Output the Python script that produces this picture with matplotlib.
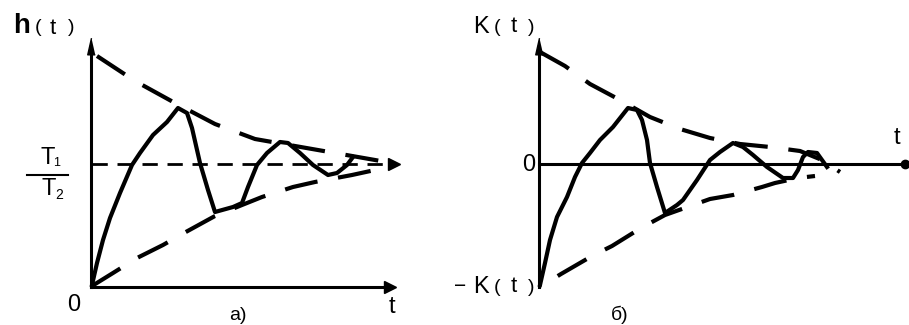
import numpy as np
import matplotlib.pyplot as plt

plt.rcParams['lines.scale_dashes'] = False
plt.rcParams['font.family'] = ['Liberation Sans', 'DejaVu Sans']

# a) step response h(t), drawing units
ha_t = [92, 97, 103, 110, 120, 132, 140, 153, 167, 178, 187, 192, 200, 208, 215,
        233, 242, 248, 257, 267, 280, 288, 300, 313, 328, 337, 347, 353]
ha_h = [285, 263, 240, 218, 193, 165, 153, 135, 122, 108, 113, 128, 163, 190, 212,
        207, 203, 187, 165, 153, 142, 143, 153, 165, 175, 173, 165, 157]
ha_up_t = [97, 135, 175, 215, 255, 295, 335, 375, 397]
ha_up_h = [56, 81, 103, 124, 139, 146, 153, 160, 164]
ha_lo_t = [92, 113, 137, 163, 184, 215, 242, 262, 293, 315, 352, 375, 397]
ha_lo_h = [286, 273, 258, 245, 233, 216, 205, 197, 187, 182, 175, 170, 164]
ha_level = 164          # T1/T2

# b) impulse response K(t)
kb_t = [540, 545, 550, 557, 567, 575, 582, 590, 600, 613, 628, 637, 642, 647, 650,
        657, 665, 677, 683, 697, 710, 720, 733, 743, 753, 767, 783, 793, 798, 803,
        808, 817, 822, 827]
kb_k = [285, 263, 240, 217, 197, 177, 163, 153, 140, 127, 108, 110, 120, 140, 163,
        187, 213, 205, 200, 180, 160, 152, 143, 147, 155, 167, 178, 178, 170, 157,
        152, 153, 160, 167]
kb_up_t = [540, 565, 590, 620, 650, 680, 710, 740, 770, 800, 822, 840]
kb_up_k = [52, 66, 84, 100, 117, 129, 138, 144, 147, 151, 160, 172]
kb_lo_t = [540, 561, 592, 612, 641, 665, 710, 733, 762, 775, 798, 815]
kb_lo_k = [287, 274, 256, 246, 228, 215, 199, 195, 187, 183, 178, 176]
kb_zero = 164

fig = plt.figure(figsize=(9.09, 3.25), dpi=100)
ax = fig.add_axes([0, 0, 1, 1])
ax.set_xlim(0, 909)
ax.set_ylim(325, 0)
ax.axis('off')

up_arrow = [(0, 1), (-0.45, -1), (0.45, -1)]
env = dict(color='k', lw=3, ls=(0, (24, 15)), solid_capstyle='butt')

# ---- a) ----
ax.plot([91, 91], [287, 48], color='k', lw=2.2)
ax.plot([91], [46], marker=up_arrow, ms=12, color='k')
ax.plot([91, 390], [287, 287], color='k', lw=2.2)
ax.plot([390], [287], marker='>', ms=8, color='k')
ax.plot([92, 392], [ha_level, ha_level], color='k', lw=2, ls=(0, (11, 7)))
ax.plot([394], [ha_level], marker='>', ms=8, color='k')
ax.plot(ha_up_t, ha_up_h, **env)
ax.plot(ha_lo_t, ha_lo_h, **env)
ax.plot(ha_t, ha_h, color='k', lw=3, solid_joinstyle='round')

# ---- b) ----
ax.plot([539, 539], [287, 48], color='k', lw=2.2)
ax.plot([539], [46], marker=up_arrow, ms=12, color='k')
ax.plot([539, 905], [kb_zero, kb_zero], color='k', lw=2.2)
ax.plot([905], [kb_zero], marker='o', ms=6, color='k')
ax.plot(kb_up_t, kb_up_k, **env)
ax.plot(kb_lo_t, kb_lo_k, color='k', lw=3, ls=(24, (24, 15)))
ax.plot(kb_t, kb_k, color='k', lw=3, solid_joinstyle='round')


def glyph(x, y, s, size=16, **kw):
    ax.text(x, y, s, fontsize=size, ha='center', va='center', **kw)


# h(t)
glyph(22, 26, 'h', 20, fontweight='bold')
glyph(38, 28, '(', 14)
glyph(53, 28, 't', 16)
glyph(71, 28, ')', 14)
# T1 / T2
glyph(48, 158, 'T', 17)
glyph(57, 163, '1', 9)
ax.plot([27, 68], [175, 175], color='k', lw=1.5)
glyph(49, 189, 'T', 17)
glyph(59, 195, '2', 10)
glyph(74, 305, '0', 17)
glyph(392, 307, 't', 17)
glyph(238, 315, 'а)', 14)

# K(t)
glyph(481, 27, 'K', 17)
glyph(497, 27, '(', 14)
glyph(514, 27, 't', 16)
glyph(531, 27, ')', 14)
glyph(529, 165, '0', 17)
glyph(897, 138, 't', 17)
# -K(t)
glyph(460, 286, '−', 15)
glyph(481, 287, 'K', 17)
glyph(497, 287, '(', 14)
glyph(514, 287, 't', 16)
glyph(531, 287, ')', 14)
glyph(620, 315, 'б)', 14)

fig.savefig('out.png', dpi=100)
